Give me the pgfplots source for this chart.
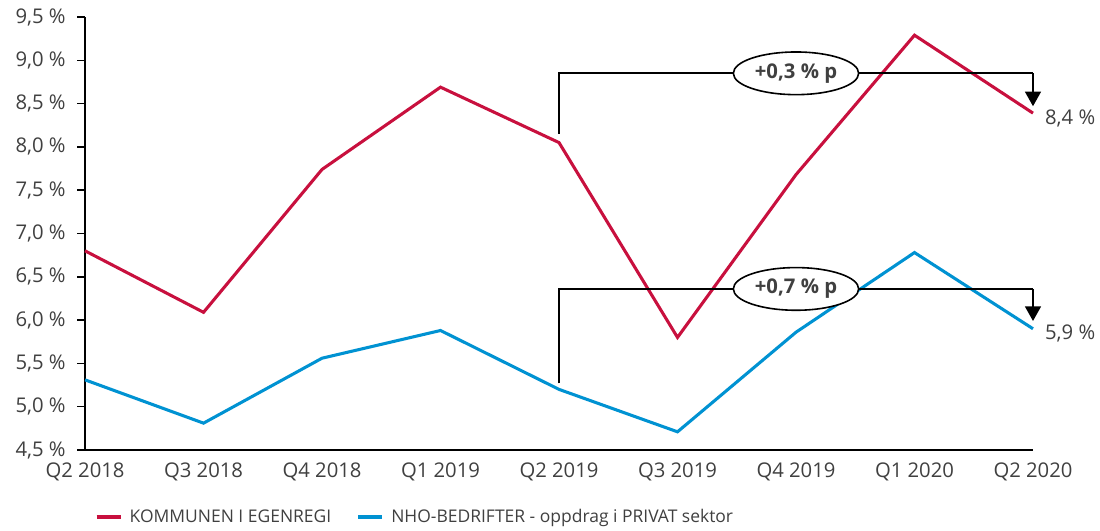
\documentclass[border=0pt]{standalone}
\usepackage{fontspec}
\setmainfont{Open Sans}
\usepackage{pgfplots}
\pgfplotsset{compat=1.18}
\usetikzlibrary{arrows.meta,shapes.geometric}
\definecolor{kred}{RGB}{200,16,62}
\definecolor{nblue}{RGB}{0,146,210}
\definecolor{txt}{RGB}{64,64,64}
\begin{document}
\begin{tikzpicture}
\begin{axis}[
  scale only axis,
  width=711pt, height=324.75pt,
  xmin=0, xmax=8, ymin=4.5, ymax=9.5,
  axis x line*=bottom, axis y line*=left,
  axis line style={black, line width=1.2pt},
  xtick={0,...,8},
  xticklabels={Q2 2018,Q3 2018,Q4 2018,Q1 2019,Q2 2019,Q3 2019,Q4 2019,Q1 2020,Q2 2020},
  x tick style={draw=none},
  ytick={4.5,5,...,9.5},
  y tick style={black, line width=1.2pt},
  tick align=outside, major tick length=6pt,
  /pgf/number format/assume math mode=true,
  /pgf/number format/.cd, fixed, fixed zerofill, precision=1, use comma,
  /pgfplots/.cd,
  yticklabel={\pgfmathprintnumber{\tick}~\%},
  ticklabel style={font=\fontsize{15.2}{17}\selectfont, text=txt},
  yticklabel style={xshift=-5pt},
  clip=false,
  legend style={draw=none, at={(rel axis cs:0.006,-0.155)}, anchor=west,
    font=\fontsize{13.1}{15}\selectfont, text=txt, column sep=3.5pt,
    /tikz/every even column/.append style={column sep=17pt}},
  legend columns=2,
  legend image code/.code={\draw[#1, line width=2.5pt] (0,0) -- (18pt,0);},
]
\addplot[kred, line width=2.3pt] coordinates {(0,6.80) (1,6.09) (2,7.74) (3,8.69) (4,8.05) (5,5.80) (6,7.68) (7,9.29) (8,8.39)};
\addlegendentry{KOMMUNEN I EGENREGI}
\addplot[nblue, line width=2.3pt] coordinates {(0,5.31) (1,4.81) (2,5.56) (3,5.88) (4,5.20) (5,4.71) (6,5.86) (7,6.78) (8,5.90)};
\addlegendentry{NHO-BEDRIFTER - oppdrag i PRIVAT sektor}
% annotations
\draw[black, line width=1.3pt] (axis cs:4,8.15) -- (axis cs:4,8.85) -- (axis cs:8,8.85);
\draw[black, line width=1.3pt, -{Triangle[width=12pt,length=11pt]}] (axis cs:8,8.85) -- (axis cs:8,8.47);
\node[ellipse, draw=black, line width=1.2pt, fill=white, minimum width=94pt, minimum height=32pt, inner sep=0pt, font=\fontsize{15.2}{17}\selectfont\bfseries, text=txt] at (axis cs:6,8.85) {+0,3 \% p};
\draw[black, line width=1.3pt] (axis cs:4,5.27) -- (axis cs:4,6.36) -- (axis cs:8,6.36);
\draw[black, line width=1.3pt, -{Triangle[width=12pt,length=11pt]}] (axis cs:8,6.36) -- (axis cs:8,5.99);
\node[ellipse, draw=black, line width=1.2pt, fill=white, minimum width=94pt, minimum height=32pt, inner sep=0pt, font=\fontsize{15.2}{17}\selectfont\bfseries, text=txt] at (axis cs:6,6.36) {+0,7 \% p};
\node[anchor=west, font=\fontsize{15.2}{17}\selectfont, text=txt, inner sep=0pt] at (axis cs:8.1,8.33) {8,4 \%};
\node[anchor=west, font=\fontsize{15.2}{17}\selectfont, text=txt, inner sep=0pt] at (axis cs:8.1,5.85) {5,9 \%};
\path (rel axis cs:-0.0897,-0.1732) rectangle (rel axis cs:1.0707,1.0393);
\end{axis}
\end{tikzpicture}
\end{document}
